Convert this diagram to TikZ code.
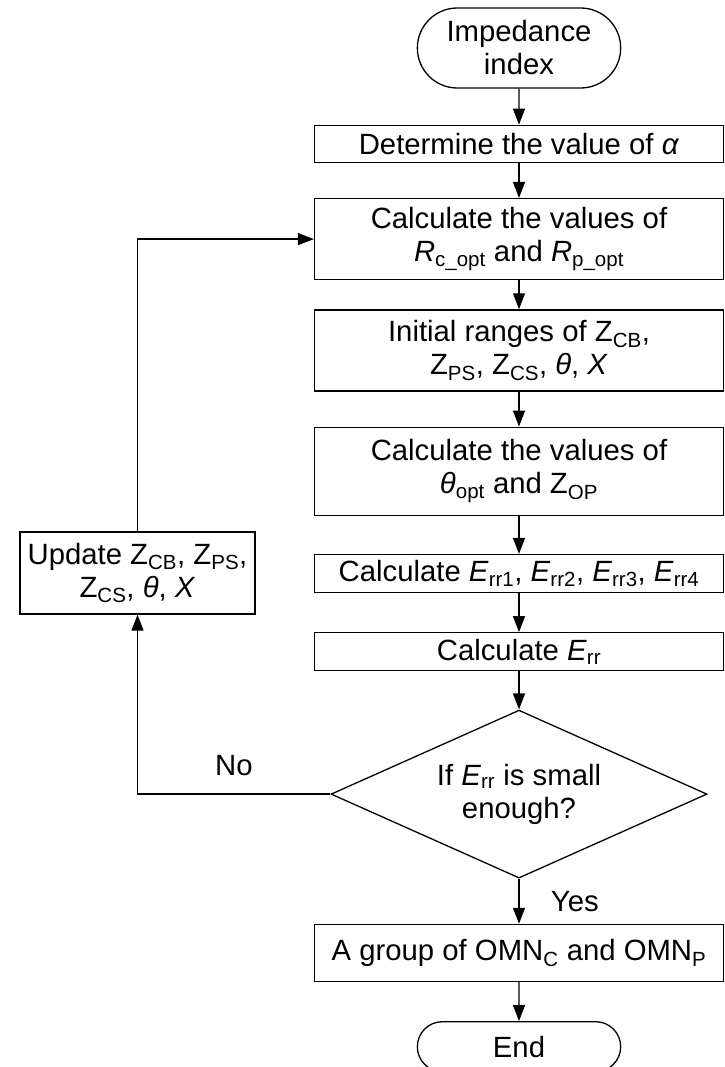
\documentclass[tikz,border=0pt]{standalone}
\usepackage{fontspec}
\setmainfont{Liberation Sans}
\usepackage{tikz}
\usetikzlibrary{arrows.meta,positioning,shapes.geometric,shapes.misc}

\begin{document}
\begin{tikzpicture}[->,>={Triangle[length=16pt,width=12pt]},line width=1.3pt,
    x=1pt,y=1pt,font=\fontsize{29.3}{33}\selectfont,
    box/.style={draw,rectangle,align=center,minimum width=409pt,inner sep=2pt},
    term/.style={draw,rounded rectangle,align=center,minimum width=210pt},
    decision/.style={draw,diamond,align=center,aspect=2.24,inner sep=0pt,
        minimum width=376pt,minimum height=168pt}]

\useasboundingbox (0,0) rectangle (724,-1067);

\node[term,minimum height=80pt] (start) at (519,-48) {Impedance\\index};
\node[box,minimum height=37pt] (alpha) [below=36pt of start] {Determine the value of \textit{α}};
\node[box,minimum height=81pt] (ropt) [below=35pt of alpha] {Calculate the values of\\\textit{R}\textsubscript{c\_opt} and \textit{R}\textsubscript{p\_opt}};
\node[box,minimum height=81pt] (range) [below=29pt of ropt] {Initial ranges of Z\textsubscript{CB},\\Z\textsubscript{PS}, Z\textsubscript{CS}, \textit{θ}, \textit{X}};
\node[box,minimum height=88pt] (thopt) [below=35pt of range] {Calculate the values of\\\textit{θ}\textsubscript{opt} and Z\textsubscript{OP}};
\node[box,minimum height=38pt] (errs) [below=38pt of thopt] {Calculate \textit{E}\textsubscript{rr1}, \textit{E}\textsubscript{rr2}, \textit{E}\textsubscript{rr3}, \textit{E}\textsubscript{rr4}};
\node[box,minimum height=38pt] (err) [below=39pt of errs] {Calculate \textit{E}\textsubscript{rr}};
\node[decision] (check) [below=38pt of err] {If \textit{E}\textsubscript{rr} is small\\enough?};
\node[box,minimum height=57pt] (group) [below=45pt of check] {A group of OMN\textsubscript{C} and OMN\textsubscript{P}};
\node[term,minimum height=50pt] (stop) [below=39pt of group] {End};

\node[box,minimum width=235pt,minimum height=82pt] (update) at (137.5,-573) {Update Z\textsubscript{CB}, Z\textsubscript{PS},\\Z\textsubscript{CS}, \textit{θ}, \textit{X}};

\path (start) edge (alpha);
\path (alpha) edge (ropt);
\path (ropt) edge (range);
\path (range) edge (thopt);
\path (thopt) edge (errs);
\path (errs) edge (err);
\path (err) edge (check);
\path (check) edge node[right=28pt] {Yes} (group);
\path (group) edge (stop);

\draw (check.west) -| node[pos=0.25,above=14pt] {No} (update);
\draw (update) |- (ropt);

\end{tikzpicture}
\end{document}
